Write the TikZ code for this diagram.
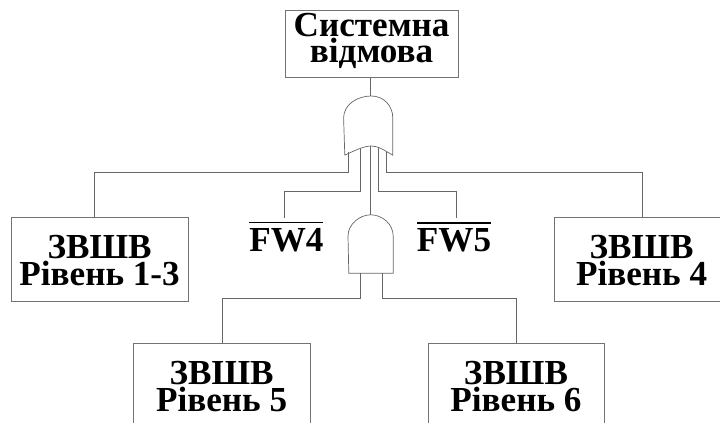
\documentclass[tikz,border=0pt]{standalone}
\usepackage{fontspec}
\setmainfont{Liberation Serif}
\usetikzlibrary{positioning,calc}
\newcommand{\barred}[1]{\vbox{\hrule height 0.8pt\kern 3.5pt\hbox{#1}}}
\begin{document}
\begin{tikzpicture}[
  font=\bfseries\fontsize{25}{19}\selectfont,
  ev/.style={draw=black!55,line width=0.7pt,fill=white,align=center,inner sep=0pt,
             minimum width=#1,minimum height=2.1cm,text height=37pt,text depth=0pt},
  lit/.style={inner xsep=0pt,inner ysep=3pt},
  gate/.style={draw=black!60,line width=0.5pt},
  wire/.style={draw=black!60,line width=0.7pt},
]
\useasboundingbox (0,0) rectangle (18,-10.575);

% events
\node[ev=4.325cm,minimum height=1.675cm,text height=36pt,text depth=9.7pt] (sys) at (9.29,-1.11) {Системна\\відмова};
\node[ev=4.425cm] (lv13) at (2.49,-6.475) {ЗВШВ\\Рівень 1-3};
\node[ev=4.375cm] (lv4) at (16.04,-6.475) {ЗВШВ\\Рівень 4};
\node[ev=4.425cm] (lv5) at (5.54,-9.625) {ЗВШВ\\Рівень 5};
\node[ev=4.4cm] (lv6) at (12.9,-9.625) {ЗВШВ\\Рівень 6};
\node[lit] (fw4) at (7.16,-5.93) {\barred{FW4}};
\node[lit] (fw5) at (11.35,-5.93) {\barred{FW5}};

% gates
\draw[gate] (8.62,-3.88) -- (8.59,-2.95) .. controls (8.59,-2.6) and (8.95,-2.4) .. (9.28,-2.4)
  .. controls (9.6,-2.4) and (9.82,-2.65) .. (9.82,-2.95) -- (9.82,-3.88)
  .. controls (9.6,-3.75) and (9.45,-3.65) .. (9.28,-3.65)
  .. controls (9.1,-3.65) and (8.9,-3.75) .. (8.62,-3.88);
\draw[gate] (8.72,-6.83) -- (8.7,-5.9) .. controls (8.7,-5.6) and (9,-5.37) .. (9.27,-5.37)
  .. controls (9.55,-5.37) and (9.83,-5.6) .. (9.83,-5.9) -- (9.83,-6.83) -- cycle;

\coordinate (ortop) at (9.27,-2.4);
\coordinate (orA) at (8.72,-3.8);
\coordinate (orB) at (9,-3.7);
\coordinate (orC) at (9.26,-3.65);
\coordinate (orD) at (9.45,-3.68);
\coordinate (orE) at (9.67,-3.8);
\coordinate (andtop) at (9.26,-5.37);
\coordinate (andA) at (9,-6.83);
\coordinate (andB) at (9.55,-6.83);
\coordinate (busA) at (2.35,-4.3);
\coordinate (busB) at (7.1,-4.78);
\coordinate (busC) at (11.4,-4.78);
\coordinate (busD) at (16.05,-4.3);
\coordinate (busE) at (5.55,-7.47);
\coordinate (busF) at (12.9,-7.47);

% wires
\draw[wire] (sys.south -| ortop) -- (ortop);
\draw[wire] (orC) -- (andtop);
\draw[wire] (orA) |- (busA) -- (busA |- lv13.north);
\draw[wire] (orB) |- (busB) -- (busB |- fw4.north);
\draw[wire] (orD) |- (busC) -- (busC |- fw5.north);
\draw[wire] (orE) |- (busD) -- (busD |- lv4.north);
\draw[wire] (andA) |- (busE) -- (busE |- lv5.north);
\draw[wire] (andB) |- (busF) -- (busF |- lv6.north);
\end{tikzpicture}
\end{document}
